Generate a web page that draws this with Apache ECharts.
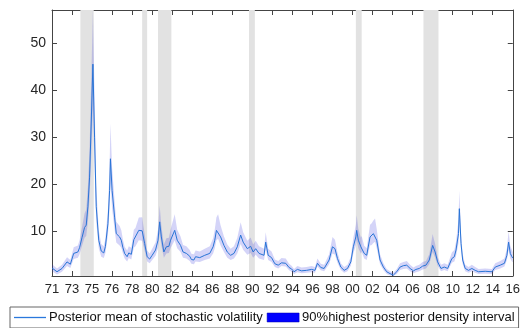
<!DOCTYPE html>
<html><head><meta charset="utf-8">
<script src="https://cdn.jsdelivr.net/npm/echarts@6/dist/echarts.min.js"></script>
<style>html,body{margin:0;padding:0;background:#fff}#c{width:523px;height:328px}</style>
</head><body><div id="c"></div>
<script>
// x tick labels (one tick every 24 months from Jan 1971)
const xTickLabels = ['71','73','75','76','78','80','82','84','86','88','90','92','94','96','98','00','02','04','06','08','10','12','14','16'];
const yTicks = [10,20,30,40,50];
// month index (0 = Jan 1971)
const months = [0,6,12,18,22,26,31,33,36,39,41,43,45,47,49,51,53,56,59,62,64,67,69,70,72,75,77,81,83,85,87,90,92,95,98,100,104,108,111,114,117,120,124,127,129,131,134,137,140,142,147,150,154,157,161,165,167,170,172,177,183,189,193,195,197,199,202,206,210,214,218,222,226,229,234,238,241,244,248,254,256,259,263,267,271,275,280,284,287,290,294,299,305,311,315,318,322,326,332,336,339,342,346,350,354,358,361,364,365,367,370,371,374,377,381,383,385,387,389,393,397,401,405,409,413,417,421,425,429,433,436,440,444,448,452,456,459,462,466,470,474,479,482,484,487,488,490,492,495,499,503,507,511,519,527,531,537,542,545,547,549,551,552];
const meanVol = [2.2,1.4,2.1,3.5,3.0,5.3,5.6,6.5,8.7,10.8,11.3,15.2,21.5,33.0,45.5,30.0,15.2,8.1,5.8,5.4,6.8,11.6,18.7,25.4,18.7,13.0,9.5,8.8,8.1,6.5,5.3,4.6,5.4,5.1,8.2,8.5,10.2,10.1,7.4,4.6,4.1,4.9,6.0,8.1,12.0,8.8,5.6,6.7,6.8,8.1,10.2,8.1,7.0,5.6,5.3,4.7,4.0,3.9,4.6,4.4,4.9,5.3,6.7,8.1,10.2,10.6,8.8,7.0,5.6,4.9,5.3,6.7,9.2,7.7,6.3,6.8,5.6,6.3,5.3,4.9,7.7,4.9,4.4,3.1,2.8,3.3,3.2,2.3,2.0,1.4,1.9,1.6,1.7,1.9,1.7,3.2,2.3,2.1,3.9,6.7,6.3,4.2,2.4,1.7,2.1,3.5,6.7,8.8,10.2,8.1,6.7,7.0,5.3,4.9,8.8,9.0,9.5,9.9,8.1,3.9,2.4,1.4,1.0,0.7,1.4,2.4,2.7,2.8,2.1,1.6,1.9,2.1,2.6,2.8,3.9,7.0,5.6,3.5,2.1,2.4,2.1,4.2,4.6,6.0,9.5,14.8,7.4,3.9,2.1,1.7,2.1,1.7,1.4,1.5,1.4,2.4,2.8,3.2,4.9,7.7,5.3,4.6,4.3];
const lowerBand = [1.5,0.8,1.4,2.6,2.2,4.1,4.4,5.1,6.9,8.6,9.0,12.0,17.0,26.0,36.0,23.5,12.0,6.4,4.6,4.3,5.4,9.2,14.8,20.2,14.8,10.3,7.6,7.0,6.5,5.2,4.2,3.6,4.3,4.0,6.5,6.8,8.1,8.0,5.9,3.6,3.2,3.9,4.8,6.4,9.5,7.0,4.4,5.3,5.4,6.4,8.1,6.4,5.6,4.4,4.2,3.7,3.1,3.0,3.6,3.5,3.9,4.2,5.3,6.4,8.1,8.4,7.0,5.6,4.4,3.9,4.2,5.3,7.3,6.1,5.0,5.4,4.4,5.0,4.2,3.9,6.1,3.9,3.5,2.4,2.1,2.6,2.5,1.7,1.4,0.9,1.3,1.1,1.2,1.3,1.2,2.5,1.7,1.5,3.0,5.3,5.0,3.3,1.8,1.2,1.5,2.7,5.3,7.0,8.1,6.4,5.3,5.6,4.2,3.9,7.0,7.1,7.5,7.8,6.4,3.0,1.8,0.9,0.6,0.5,0.9,1.8,2.0,2.1,1.5,1.1,1.3,1.5,1.9,2.1,3.0,5.6,4.4,2.7,1.5,1.8,1.5,3.3,3.6,4.7,7.5,11.8,5.9,3.0,1.5,1.2,1.5,1.2,0.9,1.0,0.9,1.8,2.1,2.5,3.9,6.1,4.2,3.6,3.4];
const upperBand = [3.0,2.1,2.9,4.5,3.9,6.6,7.0,8.1,10.9,13.8,14.6,19.5,27.5,42.0,57.0,38.5,19.5,10.2,7.3,6.8,8.5,14.6,23.8,32.9,23.5,16.4,12.0,11.1,10.2,8.2,6.7,5.9,6.8,6.5,10.3,10.7,12.9,13.0,9.4,5.9,5.3,6.3,7.6,10.3,15.5,11.2,7.2,8.5,8.6,10.3,13.6,10.3,8.9,7.1,6.8,6.0,5.2,5.1,5.9,5.7,6.3,6.8,8.5,10.4,13.0,13.6,11.2,8.9,7.2,6.3,6.8,8.6,11.9,9.8,8.0,8.7,7.2,8.0,6.8,6.3,9.8,6.3,5.7,4.0,3.7,4.3,4.2,3.1,2.7,2.0,2.6,2.3,2.4,2.6,2.4,4.2,3.1,2.9,5.1,8.8,8.2,5.5,3.2,2.4,2.9,4.6,8.6,11.4,13.4,10.5,8.6,9.0,6.9,6.4,11.4,11.7,12.3,12.7,10.5,5.1,3.2,2.0,1.5,1.2,2.0,3.2,3.5,3.7,2.9,2.3,2.6,2.9,3.5,3.7,5.1,9.4,7.3,4.6,2.9,3.2,2.9,5.5,6.0,7.8,12.5,18.6,9.6,5.1,2.9,2.4,2.9,2.4,2.0,2.1,2.0,3.2,3.7,4.2,6.4,10.0,6.9,6.0,5.6];
// NBER recessions, month index ranges
const recessions = [[34,50],[108,114],[127,143],[236,243],[364,371],[445,463]];

const AX = '#444';
const TXT = '#262626';
const FONT = 'Liberation Sans, Arial, Helvetica, sans-serif';

const chart = echarts.init(document.getElementById('c'), null, {renderer:'canvas'});
const axisCommonX = {
  type:'value', min:0, max:552, interval:24,
  axisLine:{show:true, onZero:false, lineStyle:{color:AX, width:1}},
  axisTick:{show:true, inside:true, length:5, lineStyle:{color:AX, width:1}},
  splitLine:{show:false}
};
const axisCommonY = {
  type:'value', min:0.5, max:57,
  axisLine:{show:true, onZero:false, lineStyle:{color:AX, width:1}},
  axisTick:{show:true, inside:true, length:5, customValues:yTicks, lineStyle:{color:AX, width:1}},
  splitLine:{show:false}
};
chart.setOption({
  animation:false,
  backgroundColor:'#fff',
  grid:{left:52, right:3, top:10, bottom:52, containLabel:false},
  xAxis:[
    Object.assign({}, axisCommonX, {position:'bottom',
      axisLabel:{show:true, margin:7, fontSize:13, color:TXT, fontFamily:FONT, showMinLabel:true, showMaxLabel:true,
        formatter:function(v){ return xTickLabels[Math.round(v/24)] || ''; }}}),
    Object.assign({}, axisCommonX, {position:'top', axisLabel:{show:false}})
  ],
  yAxis:[
    Object.assign({}, axisCommonY, {position:'left',
      axisLabel:{show:true, margin:6, fontSize:14, color:TXT, fontFamily:FONT, customValues:yTicks}}),
    Object.assign({}, axisCommonY, {position:'right', axisLabel:{show:false}})
  ],
  legend:{
    left:10, top:307, orient:'horizontal',
    padding:[4,4,4,4], itemGap:4, itemWidth:32, itemHeight:9,
    borderColor:'#666', borderWidth:1, backgroundColor:'#fff',
    textStyle:{fontSize:13, color:'#111', fontFamily:FONT, padding:[0,0,0,-2]},
    selectedMode:false,
    data:[
      {name:'Posterior mean of stochastic volatility', icon:'path://M0,0L32,0L32,1.3L0,1.3Z', itemStyle:{color:'#2a78dc', borderWidth:0}},
      {name:'90%highest posterior density interval', icon:'rect', itemStyle:{color:'#0000ff', borderColor:'#0000aa', borderWidth:0.5}}
    ]
  },
  series:[
    {
      name:'recessions', type:'line', data:[], z:1, silent:true,
      markArea:{silent:true, itemStyle:{color:'#e2e2e2'},
        data: recessions.map(function(r){ return [{xAxis:r[0]},{xAxis:r[1]}]; })}
    },
    {
      name:'90%highest posterior density interval', type:'custom', z:2, clip:true, silent:true,
      itemStyle:{color:'#0000ff'},
      data: months.map(function(m,i){ return [m, lowerBand[i], upperBand[i]]; }),
      encode:{x:0, y:[1,2]},
      renderItem:function(params, api){
        if (params.dataIndex !== 0) return null;
        const pts = [];
        for (let i=0;i<months.length;i++) pts.push(api.coord([months[i], upperBand[i]]));
        for (let i=months.length-1;i>=0;i--) pts.push(api.coord([months[i], lowerBand[i]]));
        return {type:'polygon', shape:{points:pts}, style:{fill:'rgba(40,40,220,0.2)', stroke:null}};
      }
    },
    {
      name:'Posterior mean of stochastic volatility', type:'line', z:3, symbol:'none', silent:true,
      lineStyle:{color:'#2874d6', width:1}, itemStyle:{color:'#2874d6'},
      data: months.map(function(m,i){ return [m, meanVol[i]]; })
    }
  ]
});
</script></body></html>
